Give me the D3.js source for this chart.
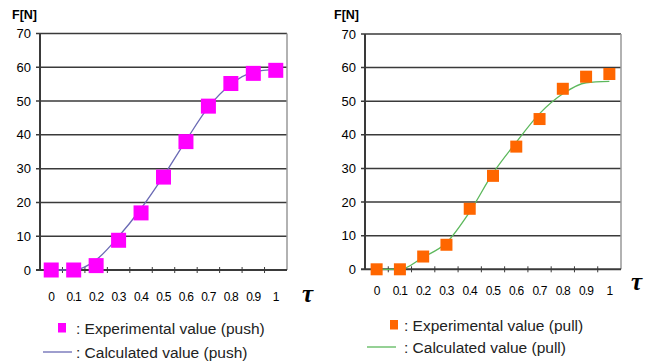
<!DOCTYPE html>
<html>
<head>
<meta charset="utf-8">
<script src="https://cdn.jsdelivr.net/npm/d3@7"></script>
<style>
body{margin:0;background:#fff;}
svg{font-family:"Liberation Sans",Arial,sans-serif;}
</style>
</head>
<body>
<svg id="chart" width="650" height="362"></svg>
<script>
var tauLabels=["0","0.1","0.2","0.3","0.4","0.5","0.6","0.7","0.8","0.9","1"];
var yTicks=[0,10,20,30,40,50,60,70];
var expPush=[0,0,1.3,8.8,16.9,27.5,38,48.5,55.2,58.2,59.1];
var calcPush=[0,0,3,9.9,18.2,27.8,38.3,48.2,55,58.6,59.4];
var expPull=[0,0,3.8,7.3,18,27.8,36.5,44.7,53.7,57.3,58.1];
var calcPull=[0,0,3.6,7.9,17.1,28.6,37.8,46.3,52.2,55.5,55.9];

var svg=d3.select("#chart");

function drawPanel(opt){
  var g=svg.append("g");
  var x=d3.scaleBand().domain(tauLabels).range([opt.left,opt.right]);
  var y=d3.scaleLinear().domain([0,70]).range([opt.bottom,opt.top]);

  // grid lines
  g.selectAll(".grid").data(yTicks.slice(1)).enter().append("line")
    .attr("x1",opt.left-4).attr("x2",opt.right)
    .attr("y1",function(d){return y(d);}).attr("y2",function(d){return y(d);})
    .attr("stroke","#3a3a3a").attr("stroke-width",1.5);
  // right border
  g.append("line").attr("x1",opt.right).attr("x2",opt.right)
    .attr("y1",opt.top).attr("y2",opt.bottom)
    .attr("stroke","#999").attr("stroke-width",1.5);
  // left axis
  g.append("line").attr("x1",opt.left).attr("x2",opt.left)
    .attr("y1",opt.top).attr("y2",opt.bottom)
    .attr("stroke","#3a3a3a").attr("stroke-width",2);
  // bottom axis
  g.append("line").attr("x1",opt.left-4).attr("x2",opt.right)
    .attr("y1",opt.bottom).attr("y2",opt.bottom)
    .attr("stroke","#3a3a3a").attr("stroke-width",2);
  var bounds=d3.range(1,tauLabels.length);
  g.selectAll(".xtick").data(bounds).enter().append("line")
    .attr("x1",function(i){return opt.left+i*x.bandwidth();})
    .attr("x2",function(i){return opt.left+i*x.bandwidth();})
    .attr("y1",opt.bottom-3).attr("y2",opt.bottom+3)
    .attr("stroke","#3a3a3a").attr("stroke-width",1);

  // y labels
  g.selectAll(".ylab").data(yTicks).enter().append("text")
    .attr("x",opt.left-9).attr("y",function(d){return y(d)+4.5;})
    .attr("text-anchor","end").attr("font-size",13).attr("fill","#000")
    .text(function(d){return d;});
  // x labels
  g.selectAll(".xlab").data(tauLabels).enter().append("text")
    .attr("x",function(d){return x(d)+x.bandwidth()/2;})
    .attr("y",opt.xLabY).attr("text-anchor","middle")
    .attr("font-size",12).attr("letter-spacing","-0.8").attr("fill","#000")
    .text(function(d){return d;});

  g.append("text").attr("x",opt.fnX).attr("y",19)
    .attr("font-size",12.5).attr("font-weight","bold").text("F[N]");
  g.append("text").attr("x",opt.tauX).attr("y",opt.tauY)
    .attr("font-family","Liberation Serif,serif").attr("font-style","italic")
    .attr("font-weight","bold").attr("font-size",25).text("τ");

  var line=d3.line()
    .x(function(d,i){return x(tauLabels[i])+x.bandwidth()/2;})
    .y(function(d){return y(d);})
    .curve(d3.curveMonotoneX);
  g.append("path").datum(opt.calc).attr("d",line)
    .attr("fill","none").attr("stroke",opt.lineColor).attr("stroke-width",1.3);

  var s=opt.markerSize;
  g.selectAll(".mk").data(opt.exp).enter().append("rect")
    .attr("x",function(d,i){return x(tauLabels[i])+x.bandwidth()/2-s/2;})
    .attr("y",function(d){return y(d)-s/2;})
    .attr("width",s).attr("height",s).attr("fill",opt.markerColor);

  // legend
  g.append("rect").attr("x",opt.legSqX-4).attr("y",opt.legY1-5)
    .attr("width",8).attr("height",9.5).attr("fill",opt.markerColor);
  g.append("text").attr("x",opt.legTextX).attr("y",opt.legY1+5.5)
    .attr("font-size",15.5).attr("fill","#222").text(": Experimental value ("+opt.name+")");
  g.append("line").attr("x1",opt.legLineX1).attr("x2",opt.legLineX2)
    .attr("y1",opt.legY2).attr("y2",opt.legY2)
    .attr("stroke",opt.lineColor).attr("stroke-width",1.3);
  g.append("text").attr("x",opt.legTextX).attr("y",opt.legY2+5.5)
    .attr("font-size",15.5).attr("fill","#222").text(": Calculated value ("+opt.name+")");
}

drawPanel({left:40,right:287,top:33.5,bottom:270,xLabY:301,tauX:302,tauY:302,fnX:12,
  exp:expPush,calc:calcPush,markerColor:"#ff00ff",lineColor:"#6a6ab4",markerSize:15,
  name:"push",legSqX:62,legY1:328,legTextX:76,legLineX1:43,legLineX2:72,legY2:352});
drawPanel({left:365,right:621,top:34,bottom:269.3,xLabY:295,tauX:631,tauY:290,fnX:334,
  exp:expPull,calc:calcPull,markerColor:"#ff6600",lineColor:"#5cb85c",markerSize:12,
  name:"pull",legSqX:394,legY1:325,legTextX:404,legLineX1:367,legLineX2:396,legY2:347});
</script>
</body>
</html>
